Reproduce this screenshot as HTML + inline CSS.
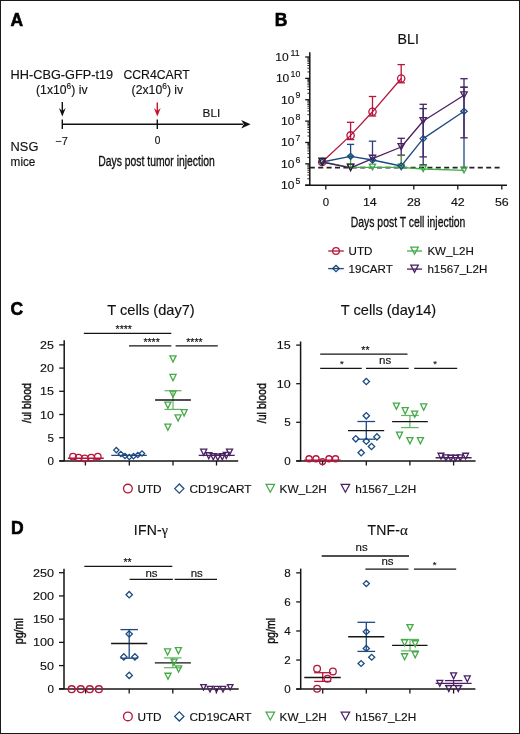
<!DOCTYPE html>
<html><head><meta charset="utf-8"><style>
html,body{margin:0;padding:0;background:#fff;width:520px;height:734px;overflow:hidden}
svg{display:block;will-change:transform}
text{font-family:"Liberation Sans",sans-serif}
</style></head><body>
<svg width="520" height="734" viewBox="0 0 520 734">
<rect x="0.5" y="0.5" width="519" height="733" fill="none" stroke="#1a1a1a" stroke-width="1"/>
<text x="10.60" y="26.00" font-size="17.5" text-anchor="start" font-weight="bold" fill="#000"  stroke="#000" stroke-width="0.6">A</text>
<text x="10.60" y="78.60" font-size="12.2" text-anchor="start" font-weight="normal" fill="#111" stroke="#111" stroke-width="0.15" textLength="102.5" lengthAdjust="spacingAndGlyphs">HH-CBG-GFP-t19</text>
<text x="36.00" y="93.80" font-size="12.2" text-anchor="start" font-weight="normal" fill="#111" stroke="#111" stroke-width="0.15" textLength="51.6" lengthAdjust="spacing">(1x10<tspan dy="-5" font-size="8.4">6</tspan><tspan dy="5">) iv</tspan></text>
<text x="123.40" y="78.90" font-size="12.2" text-anchor="start" font-weight="normal" fill="#111" stroke="#111" stroke-width="0.15" textLength="66.4" lengthAdjust="spacingAndGlyphs">CCR4CART</text>
<text x="131.60" y="94.00" font-size="12.2" text-anchor="start" font-weight="normal" fill="#111" stroke="#111" stroke-width="0.15" textLength="51.6" lengthAdjust="spacing">(2x10<tspan dy="-5" font-size="8.4">6</tspan><tspan dy="5">) iv</tspan></text>
<line x1="62.30" y1="101.90" x2="62.30" y2="112.60" stroke="#111" stroke-width="1.4" />
<path d="M58.90,108.00L62.30,116.60L65.70,108.00L62.30,111.00Z" fill="#111"/>
<line x1="157.30" y1="102.50" x2="157.30" y2="112.60" stroke="#c8102e" stroke-width="1.4" />
<path d="M153.90,108.00L157.30,116.60L160.70,108.00L157.30,111.00Z" fill="#c8102e"/>
<line x1="62.30" y1="124.20" x2="243.00" y2="124.20" stroke="#111" stroke-width="1.4" />
<path d="M250.6,124.3L241.2,119.9L243.8,124.3L241.2,128.6Z" fill="#111"/>
<line x1="62.30" y1="119.60" x2="62.30" y2="129.00" stroke="#111" stroke-width="1.4" />
<line x1="157.30" y1="119.60" x2="157.30" y2="129.00" stroke="#111" stroke-width="1.4" />
<text x="202.60" y="116.70" font-size="11.8" text-anchor="start" font-weight="normal" fill="#111" stroke="#111" stroke-width="0.15" >BLI</text>
<text x="55.40" y="144.60" font-size="11.6" text-anchor="start" font-weight="normal" fill="#111" stroke="#111" stroke-width="0.15" textLength="12.6" lengthAdjust="spacingAndGlyphs">−7</text>
<text x="157.50" y="144.30" font-size="11.4" text-anchor="middle" font-weight="normal" fill="#111"  textLength="5.6" lengthAdjust="spacingAndGlyphs" stroke="#111" stroke-width="0.2">0</text>
<text x="10.60" y="151.40" font-size="12.2" text-anchor="start" font-weight="normal" fill="#111" stroke="#111" stroke-width="0.15" textLength="27.8" lengthAdjust="spacingAndGlyphs">NSG</text>
<text x="10.60" y="166.20" font-size="12" text-anchor="start" font-weight="normal" fill="#111" stroke="#111" stroke-width="0.15" textLength="24.8" lengthAdjust="spacingAndGlyphs">mice</text>
<text x="98.20" y="165.60" font-size="15.2" text-anchor="start" font-weight="normal" fill="#111"  textLength="116.6" lengthAdjust="spacingAndGlyphs" stroke="#111" stroke-width="0.35">Days post tumor injection</text>
<text x="274.80" y="25.80" font-size="17.5" text-anchor="start" font-weight="bold" fill="#000"  stroke="#000" stroke-width="0.6">B</text>
<text x="408.20" y="43.80" font-size="14.2" text-anchor="middle" font-weight="normal" fill="#111" stroke="#111" stroke-width="0.15" >BLI</text>
<line x1="309.80" y1="52.30" x2="309.80" y2="185.20" stroke="#151515" stroke-width="1.5" />
<line x1="305.20" y1="185.20" x2="507.00" y2="185.20" stroke="#151515" stroke-width="1.5" />
<line x1="305.20" y1="185.20" x2="309.80" y2="185.20" stroke="#151515" stroke-width="1.3" />
<line x1="307.40" y1="178.77" x2="309.80" y2="178.77" stroke="#151515" stroke-width="0.9" />
<line x1="307.40" y1="175.01" x2="309.80" y2="175.01" stroke="#151515" stroke-width="0.9" />
<line x1="307.40" y1="172.34" x2="309.80" y2="172.34" stroke="#151515" stroke-width="0.9" />
<line x1="307.40" y1="170.27" x2="309.80" y2="170.27" stroke="#151515" stroke-width="0.9" />
<line x1="307.40" y1="168.57" x2="309.80" y2="168.57" stroke="#151515" stroke-width="0.9" />
<line x1="307.40" y1="167.14" x2="309.80" y2="167.14" stroke="#151515" stroke-width="0.9" />
<line x1="307.40" y1="165.90" x2="309.80" y2="165.90" stroke="#151515" stroke-width="0.9" />
<line x1="307.40" y1="164.81" x2="309.80" y2="164.81" stroke="#151515" stroke-width="0.9" />
<line x1="305.20" y1="163.83" x2="309.80" y2="163.83" stroke="#151515" stroke-width="1.3" />
<line x1="307.40" y1="157.40" x2="309.80" y2="157.40" stroke="#151515" stroke-width="0.9" />
<line x1="307.40" y1="153.64" x2="309.80" y2="153.64" stroke="#151515" stroke-width="0.9" />
<line x1="307.40" y1="150.97" x2="309.80" y2="150.97" stroke="#151515" stroke-width="0.9" />
<line x1="307.40" y1="148.90" x2="309.80" y2="148.90" stroke="#151515" stroke-width="0.9" />
<line x1="307.40" y1="147.21" x2="309.80" y2="147.21" stroke="#151515" stroke-width="0.9" />
<line x1="307.40" y1="145.78" x2="309.80" y2="145.78" stroke="#151515" stroke-width="0.9" />
<line x1="307.40" y1="144.54" x2="309.80" y2="144.54" stroke="#151515" stroke-width="0.9" />
<line x1="307.40" y1="143.44" x2="309.80" y2="143.44" stroke="#151515" stroke-width="0.9" />
<line x1="305.20" y1="142.47" x2="309.80" y2="142.47" stroke="#151515" stroke-width="1.3" />
<line x1="307.40" y1="136.03" x2="309.80" y2="136.03" stroke="#151515" stroke-width="0.9" />
<line x1="307.40" y1="132.27" x2="309.80" y2="132.27" stroke="#151515" stroke-width="0.9" />
<line x1="307.40" y1="129.60" x2="309.80" y2="129.60" stroke="#151515" stroke-width="0.9" />
<line x1="307.40" y1="127.53" x2="309.80" y2="127.53" stroke="#151515" stroke-width="0.9" />
<line x1="307.40" y1="125.84" x2="309.80" y2="125.84" stroke="#151515" stroke-width="0.9" />
<line x1="307.40" y1="124.41" x2="309.80" y2="124.41" stroke="#151515" stroke-width="0.9" />
<line x1="307.40" y1="123.17" x2="309.80" y2="123.17" stroke="#151515" stroke-width="0.9" />
<line x1="307.40" y1="122.08" x2="309.80" y2="122.08" stroke="#151515" stroke-width="0.9" />
<line x1="305.20" y1="121.10" x2="309.80" y2="121.10" stroke="#151515" stroke-width="1.3" />
<line x1="307.40" y1="114.67" x2="309.80" y2="114.67" stroke="#151515" stroke-width="0.9" />
<line x1="307.40" y1="110.91" x2="309.80" y2="110.91" stroke="#151515" stroke-width="0.9" />
<line x1="307.40" y1="108.24" x2="309.80" y2="108.24" stroke="#151515" stroke-width="0.9" />
<line x1="307.40" y1="106.17" x2="309.80" y2="106.17" stroke="#151515" stroke-width="0.9" />
<line x1="307.40" y1="104.47" x2="309.80" y2="104.47" stroke="#151515" stroke-width="0.9" />
<line x1="307.40" y1="103.04" x2="309.80" y2="103.04" stroke="#151515" stroke-width="0.9" />
<line x1="307.40" y1="101.80" x2="309.80" y2="101.80" stroke="#151515" stroke-width="0.9" />
<line x1="307.40" y1="100.71" x2="309.80" y2="100.71" stroke="#151515" stroke-width="0.9" />
<line x1="305.20" y1="99.73" x2="309.80" y2="99.73" stroke="#151515" stroke-width="1.3" />
<line x1="307.40" y1="93.30" x2="309.80" y2="93.30" stroke="#151515" stroke-width="0.9" />
<line x1="307.40" y1="89.54" x2="309.80" y2="89.54" stroke="#151515" stroke-width="0.9" />
<line x1="307.40" y1="86.87" x2="309.80" y2="86.87" stroke="#151515" stroke-width="0.9" />
<line x1="307.40" y1="84.80" x2="309.80" y2="84.80" stroke="#151515" stroke-width="0.9" />
<line x1="307.40" y1="83.11" x2="309.80" y2="83.11" stroke="#151515" stroke-width="0.9" />
<line x1="307.40" y1="81.68" x2="309.80" y2="81.68" stroke="#151515" stroke-width="0.9" />
<line x1="307.40" y1="80.44" x2="309.80" y2="80.44" stroke="#151515" stroke-width="0.9" />
<line x1="307.40" y1="79.34" x2="309.80" y2="79.34" stroke="#151515" stroke-width="0.9" />
<line x1="305.20" y1="78.37" x2="309.80" y2="78.37" stroke="#151515" stroke-width="1.3" />
<line x1="307.40" y1="71.93" x2="309.80" y2="71.93" stroke="#151515" stroke-width="0.9" />
<line x1="307.40" y1="68.17" x2="309.80" y2="68.17" stroke="#151515" stroke-width="0.9" />
<line x1="307.40" y1="65.50" x2="309.80" y2="65.50" stroke="#151515" stroke-width="0.9" />
<line x1="307.40" y1="63.43" x2="309.80" y2="63.43" stroke="#151515" stroke-width="0.9" />
<line x1="307.40" y1="61.74" x2="309.80" y2="61.74" stroke="#151515" stroke-width="0.9" />
<line x1="307.40" y1="60.31" x2="309.80" y2="60.31" stroke="#151515" stroke-width="0.9" />
<line x1="307.40" y1="59.07" x2="309.80" y2="59.07" stroke="#151515" stroke-width="0.9" />
<line x1="307.40" y1="57.98" x2="309.80" y2="57.98" stroke="#151515" stroke-width="0.9" />
<line x1="305.20" y1="57.00" x2="309.80" y2="57.00" stroke="#151515" stroke-width="1.3" />
<text x="300.30" y="183.90" font-size="8.8" text-anchor="end" font-weight="normal" fill="#111" stroke="#111" stroke-width="0.15" >5</text>
<text x="294.50" y="189.20" font-size="11.2" text-anchor="end" font-weight="normal" fill="#111" stroke="#111" stroke-width="0.15" textLength="13.4" lengthAdjust="spacingAndGlyphs">10</text>
<text x="300.30" y="162.53" font-size="8.8" text-anchor="end" font-weight="normal" fill="#111" stroke="#111" stroke-width="0.15" >6</text>
<text x="294.50" y="167.83" font-size="11.2" text-anchor="end" font-weight="normal" fill="#111" stroke="#111" stroke-width="0.15" textLength="13.4" lengthAdjust="spacingAndGlyphs">10</text>
<text x="300.30" y="141.17" font-size="8.8" text-anchor="end" font-weight="normal" fill="#111" stroke="#111" stroke-width="0.15" >7</text>
<text x="294.50" y="146.47" font-size="11.2" text-anchor="end" font-weight="normal" fill="#111" stroke="#111" stroke-width="0.15" textLength="13.4" lengthAdjust="spacingAndGlyphs">10</text>
<text x="300.30" y="119.80" font-size="8.8" text-anchor="end" font-weight="normal" fill="#111" stroke="#111" stroke-width="0.15" >8</text>
<text x="294.50" y="125.10" font-size="11.2" text-anchor="end" font-weight="normal" fill="#111" stroke="#111" stroke-width="0.15" textLength="13.4" lengthAdjust="spacingAndGlyphs">10</text>
<text x="300.30" y="98.43" font-size="8.8" text-anchor="end" font-weight="normal" fill="#111" stroke="#111" stroke-width="0.15" >9</text>
<text x="294.50" y="103.73" font-size="11.2" text-anchor="end" font-weight="normal" fill="#111" stroke="#111" stroke-width="0.15" textLength="13.4" lengthAdjust="spacingAndGlyphs">10</text>
<text x="300.30" y="77.07" font-size="8.8" text-anchor="end" font-weight="normal" fill="#111" stroke="#111" stroke-width="0.15" >10</text>
<text x="289.30" y="82.37" font-size="11.2" text-anchor="end" font-weight="normal" fill="#111" stroke="#111" stroke-width="0.15" textLength="13.4" lengthAdjust="spacingAndGlyphs">10</text>
<text x="299.60" y="55.70" font-size="8.8" text-anchor="end" font-weight="normal" fill="#111" stroke="#111" stroke-width="0.15" >11</text>
<text x="288.60" y="61.00" font-size="11.2" text-anchor="end" font-weight="normal" fill="#111" stroke="#111" stroke-width="0.15" textLength="13.4" lengthAdjust="spacingAndGlyphs">10</text>
<line x1="325.80" y1="185.00" x2="325.80" y2="189.60" stroke="#151515" stroke-width="1.3" />
<text x="325.80" y="205.70" font-size="11.4" text-anchor="middle" font-weight="normal" fill="#111" stroke="#111" stroke-width="0.15" >0</text>
<line x1="369.80" y1="185.00" x2="369.80" y2="189.60" stroke="#151515" stroke-width="1.3" />
<text x="369.80" y="205.70" font-size="11.4" text-anchor="middle" font-weight="normal" fill="#111" stroke="#111" stroke-width="0.15" textLength="13.8" lengthAdjust="spacingAndGlyphs">14</text>
<line x1="413.80" y1="185.00" x2="413.80" y2="189.60" stroke="#151515" stroke-width="1.3" />
<text x="413.80" y="205.70" font-size="11.4" text-anchor="middle" font-weight="normal" fill="#111" stroke="#111" stroke-width="0.15" textLength="13.8" lengthAdjust="spacingAndGlyphs">28</text>
<line x1="457.81" y1="185.00" x2="457.81" y2="189.60" stroke="#151515" stroke-width="1.3" />
<text x="457.81" y="205.70" font-size="11.4" text-anchor="middle" font-weight="normal" fill="#111" stroke="#111" stroke-width="0.15" textLength="13.8" lengthAdjust="spacingAndGlyphs">42</text>
<line x1="501.81" y1="185.00" x2="501.81" y2="189.60" stroke="#151515" stroke-width="1.3" />
<text x="501.81" y="205.70" font-size="11.4" text-anchor="middle" font-weight="normal" fill="#111" stroke="#111" stroke-width="0.15" textLength="13.8" lengthAdjust="spacingAndGlyphs">56</text>
<text x="350.80" y="226.50" font-size="15.2" text-anchor="start" font-weight="normal" fill="#111"  textLength="114.6" lengthAdjust="spacingAndGlyphs" stroke="#111" stroke-width="0.35">Days post T cell injection</text>
<line x1="309.80" y1="167.70" x2="500.60" y2="167.70" stroke="#222" stroke-width="1.8" stroke-dasharray="5 3.4"/>
<line x1="423.20" y1="104.30" x2="423.20" y2="156.90" stroke="#4a2062" stroke-width="1.3" />
<line x1="419.50" y1="104.30" x2="426.90" y2="104.30" stroke="#4a2062" stroke-width="1.3" />
<line x1="419.50" y1="156.90" x2="426.90" y2="156.90" stroke="#4a2062" stroke-width="1.3" />
<line x1="423.20" y1="108.60" x2="423.20" y2="164.80" stroke="#3a2d6a" stroke-width="1.3" />
<line x1="419.50" y1="108.60" x2="426.90" y2="108.60" stroke="#3a2d6a" stroke-width="1.3" />
<line x1="419.50" y1="164.80" x2="426.90" y2="164.80" stroke="#3a2d6a" stroke-width="1.3" />
<line x1="464.00" y1="87.20" x2="464.00" y2="167.00" stroke="#1d4a80" stroke-width="1.3" />
<line x1="460.30" y1="87.20" x2="467.70" y2="87.20" stroke="#1d4a80" stroke-width="1.3" />
<line x1="460.30" y1="87.20" x2="467.70" y2="87.20" stroke="#3a2d6a" stroke-width="1.3" />
<line x1="464.00" y1="78.70" x2="464.00" y2="137.80" stroke="#4a2062" stroke-width="1.3" />
<line x1="460.30" y1="78.70" x2="467.70" y2="78.70" stroke="#4a2062" stroke-width="1.3" />
<line x1="460.30" y1="137.80" x2="467.70" y2="137.80" stroke="#4a2062" stroke-width="1.3" />
<line x1="401.20" y1="138.30" x2="401.20" y2="155.20" stroke="#4a2062" stroke-width="1.3" />
<line x1="397.50" y1="138.30" x2="404.90" y2="138.30" stroke="#4a2062" stroke-width="1.3" />
<line x1="397.50" y1="155.20" x2="404.90" y2="155.20" stroke="#4a2062" stroke-width="1.3" />
<line x1="401.20" y1="155.40" x2="401.20" y2="167.00" stroke="#4f7a3a" stroke-width="1.3" />
<line x1="397.50" y1="155.40" x2="404.90" y2="155.40" stroke="#4f7a3a" stroke-width="1.3" />
<line x1="372.50" y1="141.20" x2="372.50" y2="158.00" stroke="#2d3f78" stroke-width="1.3" />
<line x1="368.80" y1="141.20" x2="376.20" y2="141.20" stroke="#2d3f78" stroke-width="1.3" />
<line x1="350.60" y1="144.40" x2="350.60" y2="156.00" stroke="#1d4a80" stroke-width="1.3" />
<line x1="347.00" y1="144.40" x2="354.20" y2="144.40" stroke="#1d4a80" stroke-width="1.3" />
<line x1="350.60" y1="157.50" x2="350.60" y2="167.00" stroke="#45aa48" stroke-width="1.3" />
<path d="M348.00,156.3L350.60,153.8L353.20,156.3L350.60,158.8Z" fill="#2e8a5a"/>
<line x1="350.60" y1="122.30" x2="350.60" y2="139.60" stroke="#b5163c" stroke-width="1.3" />
<line x1="346.90" y1="122.30" x2="354.30" y2="122.30" stroke="#b5163c" stroke-width="1.3" />
<line x1="346.90" y1="139.60" x2="354.30" y2="139.60" stroke="#b5163c" stroke-width="1.3" />
<line x1="372.50" y1="96.50" x2="372.50" y2="116.00" stroke="#b5163c" stroke-width="1.3" />
<line x1="368.80" y1="96.50" x2="376.20" y2="96.50" stroke="#b5163c" stroke-width="1.3" />
<line x1="368.80" y1="116.00" x2="376.20" y2="116.00" stroke="#b5163c" stroke-width="1.3" />
<line x1="401.20" y1="64.60" x2="401.20" y2="82.80" stroke="#b5163c" stroke-width="1.3" />
<line x1="397.50" y1="64.60" x2="404.90" y2="64.60" stroke="#b5163c" stroke-width="1.3" />
<line x1="397.50" y1="82.80" x2="404.90" y2="82.80" stroke="#b5163c" stroke-width="1.3" />
<polyline points="322.20,162.00 350.60,167.30 372.50,167.30 401.20,167.30 423.20,169.00 464.00,170.30" fill="none" stroke="#45aa48" stroke-width="1.3" stroke-linejoin="round"/>
<polyline points="322.20,162.00 350.60,156.30 372.50,160.00 401.20,166.00 423.20,138.60 464.00,111.30" fill="none" stroke="#1d4a80" stroke-width="1.3" stroke-linejoin="round"/>
<polyline points="322.20,162.00 350.60,167.80 372.50,158.60 401.20,147.00 423.20,121.00 464.00,95.20" fill="none" stroke="#4a2062" stroke-width="1.3" stroke-linejoin="round"/>
<polyline points="322.20,162.00 350.60,135.40 372.50,111.80 401.20,78.50" fill="none" stroke="#b5163c" stroke-width="1.3" stroke-linejoin="round"/>
<circle cx="322.20" cy="162.00" r="3.65" fill="none" stroke="#b5163c" stroke-width="1.3"/>
<circle cx="350.60" cy="135.40" r="3.65" fill="none" stroke="#b5163c" stroke-width="1.3"/>
<circle cx="372.50" cy="111.80" r="3.65" fill="none" stroke="#b5163c" stroke-width="1.3"/>
<circle cx="401.20" cy="78.50" r="3.65" fill="none" stroke="#b5163c" stroke-width="1.3"/>
<path d="M319.09,158.75L325.31,158.75L322.20,164.53Z" fill="none" stroke="#45aa48" stroke-width="1.3" stroke-linejoin="miter"/>
<path d="M347.49,164.05L353.71,164.05L350.60,169.83Z" fill="none" stroke="#45aa48" stroke-width="1.3" stroke-linejoin="miter"/>
<path d="M369.39,164.05L375.61,164.05L372.50,169.83Z" fill="none" stroke="#45aa48" stroke-width="1.3" stroke-linejoin="miter"/>
<path d="M398.09,164.05L404.31,164.05L401.20,169.83Z" fill="none" stroke="#45aa48" stroke-width="1.3" stroke-linejoin="miter"/>
<path d="M420.09,165.75L426.31,165.75L423.20,171.53Z" fill="none" stroke="#45aa48" stroke-width="1.3" stroke-linejoin="miter"/>
<path d="M460.89,167.05L467.11,167.05L464.00,172.83Z" fill="none" stroke="#45aa48" stroke-width="1.3" stroke-linejoin="miter"/>
<path d="M319.04,162.00L322.20,159.00L325.36,162.00L322.20,165.00Z" fill="none" stroke="#1d4a80" stroke-width="1.3" stroke-linejoin="miter"/>
<path d="M347.44,156.30L350.60,153.30L353.76,156.30L350.60,159.30Z" fill="none" stroke="#1d4a80" stroke-width="1.3" stroke-linejoin="miter"/>
<path d="M369.34,160.00L372.50,157.00L375.66,160.00L372.50,163.00Z" fill="none" stroke="#1d4a80" stroke-width="1.3" stroke-linejoin="miter"/>
<path d="M398.04,166.00L401.20,163.00L404.36,166.00L401.20,169.00Z" fill="none" stroke="#1d4a80" stroke-width="1.3" stroke-linejoin="miter"/>
<path d="M420.04,138.60L423.20,135.60L426.36,138.60L423.20,141.60Z" fill="none" stroke="#1d4a80" stroke-width="1.3" stroke-linejoin="miter"/>
<path d="M460.84,111.30L464.00,108.30L467.16,111.30L464.00,114.30Z" fill="none" stroke="#1d4a80" stroke-width="1.3" stroke-linejoin="miter"/>
<path d="M318.94,158.25L325.46,158.25L322.20,164.92Z" fill="none" stroke="#2e1838" stroke-width="1.3" stroke-linejoin="miter"/>
<path d="M347.34,164.05L353.86,164.05L350.60,170.72Z" fill="none" stroke="#2e1838" stroke-width="1.3" stroke-linejoin="miter"/>
<path d="M369.29,155.25L375.71,155.25L372.50,161.23Z" fill="none" stroke="#4a2062" stroke-width="1.3" stroke-linejoin="miter"/>
<path d="M397.99,143.65L404.41,143.65L401.20,149.63Z" fill="none" stroke="#4a2062" stroke-width="1.3" stroke-linejoin="miter"/>
<path d="M419.99,117.65L426.41,117.65L423.20,123.63Z" fill="none" stroke="#4a2062" stroke-width="1.3" stroke-linejoin="miter"/>
<path d="M460.79,91.85L467.21,91.85L464.00,97.83Z" fill="none" stroke="#4a2062" stroke-width="1.3" stroke-linejoin="miter"/>
<line x1="328.20" y1="251.00" x2="343.80" y2="251.00" stroke="#b5163c" stroke-width="1.3" />
<circle cx="336.00" cy="251.00" r="3.35" fill="none" stroke="#b5163c" stroke-width="1.3"/>
<text x="348.60" y="254.80" font-size="11.6" text-anchor="start" font-weight="normal" fill="#111" stroke="#111" stroke-width="0.15" >UTD</text>
<line x1="328.20" y1="268.60" x2="343.80" y2="268.60" stroke="#1d4a80" stroke-width="1.3" />
<path d="M332.65,268.60L336.00,265.49L339.35,268.60L336.00,271.71Z" fill="none" stroke="#1d4a80" stroke-width="1.3" stroke-linejoin="miter"/>
<text x="348.60" y="272.80" font-size="11.6" text-anchor="start" font-weight="normal" fill="#111" stroke="#111" stroke-width="0.15" >19CART</text>
<line x1="407.00" y1="251.00" x2="422.10" y2="251.00" stroke="#45aa48" stroke-width="1.3" />
<path d="M410.82,247.05L418.28,247.05L414.55,254.19Z" fill="none" stroke="#45aa48" stroke-width="1.3" stroke-linejoin="miter"/>
<text x="427.40" y="255.00" font-size="11.6" text-anchor="start" font-weight="normal" fill="#111" stroke="#111" stroke-width="0.15" >KW_L2H</text>
<line x1="407.00" y1="269.10" x2="422.10" y2="269.10" stroke="#4a2062" stroke-width="1.3" />
<path d="M410.82,265.15L418.28,265.15L414.55,272.29Z" fill="none" stroke="#4a2062" stroke-width="1.3" stroke-linejoin="miter"/>
<text x="427.40" y="273.00" font-size="11.6" text-anchor="start" font-weight="normal" fill="#111" stroke="#111" stroke-width="0.15" >h1567_L2H</text>
<text x="10.60" y="315.20" font-size="17.5" text-anchor="start" font-weight="bold" fill="#000"  stroke="#000" stroke-width="0.6">C</text>
<text x="151.00" y="315.00" font-size="14.6" text-anchor="middle" font-weight="normal" fill="#111" stroke="#111" stroke-width="0.15" >T cells (day7)</text>
<line x1="64.20" y1="340.20" x2="64.20" y2="461.00" stroke="#151515" stroke-width="1.5" />
<line x1="59.20" y1="461.00" x2="238.20" y2="461.00" stroke="#151515" stroke-width="1.5" />
<line x1="59.20" y1="460.90" x2="64.20" y2="460.90" stroke="#151515" stroke-width="1.3" />
<text x="54.00" y="465.00" font-size="11.6" text-anchor="end" font-weight="normal" fill="#111" stroke="#111" stroke-width="0.15" >0</text>
<line x1="59.20" y1="437.70" x2="64.20" y2="437.70" stroke="#151515" stroke-width="1.3" />
<text x="54.00" y="441.80" font-size="11.6" text-anchor="end" font-weight="normal" fill="#111" stroke="#111" stroke-width="0.15" >5</text>
<line x1="59.20" y1="414.50" x2="64.20" y2="414.50" stroke="#151515" stroke-width="1.3" />
<text x="54.00" y="418.60" font-size="11.6" text-anchor="end" font-weight="normal" fill="#111" stroke="#111" stroke-width="0.15" textLength="13.9" lengthAdjust="spacingAndGlyphs">10</text>
<line x1="59.20" y1="391.30" x2="64.20" y2="391.30" stroke="#151515" stroke-width="1.3" />
<text x="54.00" y="395.40" font-size="11.6" text-anchor="end" font-weight="normal" fill="#111" stroke="#111" stroke-width="0.15" textLength="13.9" lengthAdjust="spacingAndGlyphs">15</text>
<line x1="59.20" y1="368.10" x2="64.20" y2="368.10" stroke="#151515" stroke-width="1.3" />
<text x="54.00" y="372.20" font-size="11.6" text-anchor="end" font-weight="normal" fill="#111" stroke="#111" stroke-width="0.15" textLength="13.9" lengthAdjust="spacingAndGlyphs">20</text>
<line x1="59.20" y1="344.90" x2="64.20" y2="344.90" stroke="#151515" stroke-width="1.3" />
<text x="54.00" y="349.00" font-size="11.6" text-anchor="end" font-weight="normal" fill="#111" stroke="#111" stroke-width="0.15" textLength="13.9" lengthAdjust="spacingAndGlyphs">25</text>
<line x1="85.40" y1="461.00" x2="85.40" y2="465.50" stroke="#151515" stroke-width="1.3" />
<line x1="129.30" y1="461.00" x2="129.30" y2="465.50" stroke="#151515" stroke-width="1.3" />
<line x1="173.00" y1="461.00" x2="173.00" y2="465.50" stroke="#151515" stroke-width="1.3" />
<line x1="216.50" y1="461.00" x2="216.50" y2="465.50" stroke="#151515" stroke-width="1.3" />
<text x="31.00" y="403.00" font-size="13.2" text-anchor="middle" font-weight="normal" fill="#111"  transform="rotate(-90 31.0 403.0)" textLength="40.0" lengthAdjust="spacingAndGlyphs" stroke="#111" stroke-width="0.45">/ul blood</text>
<line x1="83.80" y1="333.40" x2="171.30" y2="333.40" stroke="#151515" stroke-width="1.3" />
<text x="123.80" y="333.10" font-size="10.5" text-anchor="middle" font-weight="normal" fill="#111" stroke="#111" stroke-width="0.15" >****</text>
<line x1="129.00" y1="345.80" x2="171.30" y2="345.80" stroke="#151515" stroke-width="1.3" />
<text x="151.60" y="345.70" font-size="10.5" text-anchor="middle" font-weight="normal" fill="#111" stroke="#111" stroke-width="0.15" >****</text>
<line x1="175.60" y1="345.80" x2="217.80" y2="345.80" stroke="#151515" stroke-width="1.3" />
<text x="194.40" y="345.70" font-size="10.5" text-anchor="middle" font-weight="normal" fill="#111" stroke="#111" stroke-width="0.15" >****</text>
<line x1="67.80" y1="458.20" x2="103.80" y2="458.20" stroke="#b5163c" stroke-width="1.4" />
<circle cx="73.00" cy="456.60" r="3.25" fill="none" stroke="#b5163c" stroke-width="1.3"/>
<circle cx="78.60" cy="457.60" r="3.25" fill="none" stroke="#b5163c" stroke-width="1.3"/>
<circle cx="84.80" cy="458.40" r="3.25" fill="none" stroke="#b5163c" stroke-width="1.3"/>
<circle cx="91.20" cy="457.60" r="3.25" fill="none" stroke="#b5163c" stroke-width="1.3"/>
<circle cx="97.80" cy="456.60" r="3.25" fill="none" stroke="#b5163c" stroke-width="1.3"/>
<line x1="111.30" y1="455.40" x2="146.80" y2="455.40" stroke="#1d4a80" stroke-width="1.4" />
<path d="M113.62,450.10L116.30,447.42L118.98,450.10L116.30,452.78Z" fill="none" stroke="#1d4a80" stroke-width="1.3" stroke-linejoin="miter"/>
<path d="M118.12,454.00L120.80,451.32L123.48,454.00L120.80,456.68Z" fill="none" stroke="#1d4a80" stroke-width="1.3" stroke-linejoin="miter"/>
<path d="M122.32,456.00L125.00,453.32L127.68,456.00L125.00,458.68Z" fill="none" stroke="#1d4a80" stroke-width="1.3" stroke-linejoin="miter"/>
<path d="M126.62,457.00L129.30,454.32L131.98,457.00L129.30,459.68Z" fill="none" stroke="#1d4a80" stroke-width="1.3" stroke-linejoin="miter"/>
<path d="M130.82,456.20L133.50,453.52L136.18,456.20L133.50,458.88Z" fill="none" stroke="#1d4a80" stroke-width="1.3" stroke-linejoin="miter"/>
<path d="M135.12,455.00L137.80,452.32L140.48,455.00L137.80,457.68Z" fill="none" stroke="#1d4a80" stroke-width="1.3" stroke-linejoin="miter"/>
<path d="M139.32,453.50L142.00,450.82L144.68,453.50L142.00,456.18Z" fill="none" stroke="#1d4a80" stroke-width="1.3" stroke-linejoin="miter"/>
<line x1="173.00" y1="390.70" x2="173.00" y2="409.40" stroke="#5fb65f" stroke-width="1.2" />
<line x1="164.50" y1="390.70" x2="181.50" y2="390.70" stroke="#5fb65f" stroke-width="1.2" />
<line x1="164.50" y1="409.40" x2="181.50" y2="409.40" stroke="#5fb65f" stroke-width="1.2" />
<line x1="155.10" y1="400.00" x2="190.90" y2="400.00" stroke="#151515" stroke-width="1.4" />
<path d="M169.94,355.85L176.06,355.85L173.00,362.12Z" fill="none" stroke="#45aa48" stroke-width="1.3" stroke-linejoin="miter"/>
<path d="M169.94,374.45L176.06,374.45L173.00,380.72Z" fill="none" stroke="#45aa48" stroke-width="1.3" stroke-linejoin="miter"/>
<path d="M169.94,391.05L176.06,391.05L173.00,397.32Z" fill="none" stroke="#45aa48" stroke-width="1.3" stroke-linejoin="miter"/>
<path d="M164.84,402.05L170.96,402.05L167.90,408.32Z" fill="none" stroke="#45aa48" stroke-width="1.3" stroke-linejoin="miter"/>
<path d="M181.04,409.65L187.16,409.65L184.10,415.92Z" fill="none" stroke="#45aa48" stroke-width="1.3" stroke-linejoin="miter"/>
<path d="M175.04,414.85L181.16,414.85L178.10,421.12Z" fill="none" stroke="#45aa48" stroke-width="1.3" stroke-linejoin="miter"/>
<path d="M164.84,424.05L170.96,424.05L167.90,430.32Z" fill="none" stroke="#45aa48" stroke-width="1.3" stroke-linejoin="miter"/>
<line x1="198.70" y1="455.40" x2="234.70" y2="455.40" stroke="#4a2062" stroke-width="1.4" />
<path d="M200.65,449.15L206.75,449.15L203.70,455.25Z" fill="none" stroke="#4a2062" stroke-width="1.3" stroke-linejoin="miter"/>
<path d="M205.75,452.75L211.85,452.75L208.80,458.85Z" fill="none" stroke="#4a2062" stroke-width="1.3" stroke-linejoin="miter"/>
<path d="M210.25,453.75L216.35,453.75L213.30,459.85Z" fill="none" stroke="#4a2062" stroke-width="1.3" stroke-linejoin="miter"/>
<path d="M214.75,454.15L220.85,454.15L217.80,460.25Z" fill="none" stroke="#4a2062" stroke-width="1.3" stroke-linejoin="miter"/>
<path d="M219.25,453.75L225.35,453.75L222.30,459.85Z" fill="none" stroke="#4a2062" stroke-width="1.3" stroke-linejoin="miter"/>
<path d="M223.25,452.35L229.35,452.35L226.30,458.45Z" fill="none" stroke="#4a2062" stroke-width="1.3" stroke-linejoin="miter"/>
<path d="M226.45,449.15L232.55,449.15L229.50,455.25Z" fill="none" stroke="#4a2062" stroke-width="1.3" stroke-linejoin="miter"/>
<text x="388.50" y="315.00" font-size="14.6" text-anchor="middle" font-weight="normal" fill="#111" stroke="#111" stroke-width="0.15" >T cells (day14)</text>
<line x1="300.60" y1="341.50" x2="300.60" y2="461.00" stroke="#151515" stroke-width="1.5" />
<line x1="296.20" y1="461.00" x2="475.60" y2="461.00" stroke="#151515" stroke-width="1.5" />
<line x1="296.20" y1="460.90" x2="300.60" y2="460.90" stroke="#151515" stroke-width="1.3" />
<text x="290.60" y="465.00" font-size="11.6" text-anchor="end" font-weight="normal" fill="#111" stroke="#111" stroke-width="0.15" >0</text>
<line x1="296.20" y1="422.30" x2="300.60" y2="422.30" stroke="#151515" stroke-width="1.3" />
<text x="290.60" y="426.40" font-size="11.6" text-anchor="end" font-weight="normal" fill="#111" stroke="#111" stroke-width="0.15" >5</text>
<line x1="296.20" y1="383.70" x2="300.60" y2="383.70" stroke="#151515" stroke-width="1.3" />
<text x="290.60" y="387.80" font-size="11.6" text-anchor="end" font-weight="normal" fill="#111" stroke="#111" stroke-width="0.15" textLength="13.9" lengthAdjust="spacingAndGlyphs">10</text>
<line x1="296.20" y1="345.10" x2="300.60" y2="345.10" stroke="#151515" stroke-width="1.3" />
<text x="290.60" y="349.20" font-size="11.6" text-anchor="end" font-weight="normal" fill="#111" stroke="#111" stroke-width="0.15" textLength="13.9" lengthAdjust="spacingAndGlyphs">15</text>
<line x1="322.60" y1="461.00" x2="322.60" y2="465.50" stroke="#151515" stroke-width="1.3" />
<line x1="366.30" y1="461.00" x2="366.30" y2="465.50" stroke="#151515" stroke-width="1.3" />
<line x1="409.90" y1="461.00" x2="409.90" y2="465.50" stroke="#151515" stroke-width="1.3" />
<line x1="453.60" y1="461.00" x2="453.60" y2="465.50" stroke="#151515" stroke-width="1.3" />
<text x="266.40" y="403.20" font-size="13.2" text-anchor="middle" font-weight="normal" fill="#111"  transform="rotate(-90 266.4 403.2)" textLength="40.0" lengthAdjust="spacingAndGlyphs" stroke="#111" stroke-width="0.45">/ul blood</text>
<line x1="320.20" y1="354.10" x2="407.50" y2="354.10" stroke="#151515" stroke-width="1.3" />
<text x="365.40" y="353.80" font-size="10.5" text-anchor="middle" font-weight="normal" fill="#111" stroke="#111" stroke-width="0.15" >**</text>
<line x1="320.20" y1="368.30" x2="361.70" y2="368.30" stroke="#151515" stroke-width="1.3" />
<text x="341.80" y="367.20" font-size="9.5" text-anchor="middle" font-weight="normal" fill="#111" stroke="#111" stroke-width="0.15" >*</text>
<line x1="366.00" y1="368.30" x2="408.70" y2="368.30" stroke="#151515" stroke-width="1.3" />
<text x="385.20" y="364.40" font-size="11.5" text-anchor="middle" font-weight="normal" fill="#111" stroke="#111" stroke-width="0.15" >ns</text>
<line x1="414.20" y1="368.30" x2="457.20" y2="368.30" stroke="#151515" stroke-width="1.3" />
<text x="435.00" y="367.20" font-size="9.5" text-anchor="middle" font-weight="normal" fill="#111" stroke="#111" stroke-width="0.15" >*</text>
<line x1="303.90" y1="460.10" x2="340.70" y2="460.10" stroke="#b5163c" stroke-width="1.4" />
<circle cx="309.10" cy="458.80" r="3.05" fill="none" stroke="#b5163c" stroke-width="1.3"/>
<circle cx="316.00" cy="458.80" r="3.05" fill="none" stroke="#b5163c" stroke-width="1.3"/>
<circle cx="322.50" cy="461.60" r="3.05" fill="none" stroke="#b5163c" stroke-width="1.3"/>
<circle cx="329.00" cy="458.80" r="3.05" fill="none" stroke="#b5163c" stroke-width="1.3"/>
<circle cx="335.50" cy="458.80" r="3.05" fill="none" stroke="#b5163c" stroke-width="1.3"/>
<line x1="366.30" y1="421.50" x2="366.30" y2="439.20" stroke="#1d4a80" stroke-width="1.3" />
<line x1="357.45" y1="421.50" x2="375.15" y2="421.50" stroke="#1d4a80" stroke-width="1.3" />
<line x1="357.45" y1="439.20" x2="375.15" y2="439.20" stroke="#1d4a80" stroke-width="1.3" />
<line x1="348.00" y1="430.60" x2="384.20" y2="430.60" stroke="#151515" stroke-width="1.4" />
<path d="M363.12,381.50L366.30,378.32L369.48,381.50L366.30,384.68Z" fill="none" stroke="#1d4a80" stroke-width="1.3" stroke-linejoin="miter"/>
<path d="M363.12,415.80L366.30,412.62L369.48,415.80L366.30,418.98Z" fill="none" stroke="#1d4a80" stroke-width="1.3" stroke-linejoin="miter"/>
<path d="M352.62,438.80L355.80,435.62L358.98,438.80L355.80,441.98Z" fill="none" stroke="#1d4a80" stroke-width="1.3" stroke-linejoin="miter"/>
<path d="M363.12,441.20L366.30,438.02L369.48,441.20L366.30,444.38Z" fill="none" stroke="#1d4a80" stroke-width="1.3" stroke-linejoin="miter"/>
<path d="M373.72,436.90L376.90,433.72L380.08,436.90L376.90,440.08Z" fill="none" stroke="#1d4a80" stroke-width="1.3" stroke-linejoin="miter"/>
<path d="M368.32,446.50L371.50,443.32L374.68,446.50L371.50,449.68Z" fill="none" stroke="#1d4a80" stroke-width="1.3" stroke-linejoin="miter"/>
<path d="M358.02,452.70L361.20,449.52L364.38,452.70L361.20,455.88Z" fill="none" stroke="#1d4a80" stroke-width="1.3" stroke-linejoin="miter"/>
<line x1="409.90" y1="415.50" x2="409.90" y2="427.60" stroke="#5fb65f" stroke-width="1.2" />
<line x1="401.05" y1="415.50" x2="418.75" y2="415.50" stroke="#5fb65f" stroke-width="1.2" />
<line x1="401.05" y1="427.60" x2="418.75" y2="427.60" stroke="#5fb65f" stroke-width="1.2" />
<line x1="392.10" y1="421.60" x2="427.80" y2="421.60" stroke="#151515" stroke-width="1.4" />
<path d="M393.34,403.05L399.46,403.05L396.40,409.32Z" fill="none" stroke="#45aa48" stroke-width="1.3" stroke-linejoin="miter"/>
<path d="M402.14,407.65L408.26,407.65L405.20,413.92Z" fill="none" stroke="#45aa48" stroke-width="1.3" stroke-linejoin="miter"/>
<path d="M411.64,411.05L417.76,411.05L414.70,417.32Z" fill="none" stroke="#45aa48" stroke-width="1.3" stroke-linejoin="miter"/>
<path d="M420.64,403.95L426.76,403.95L423.70,410.22Z" fill="none" stroke="#45aa48" stroke-width="1.3" stroke-linejoin="miter"/>
<path d="M396.44,432.15L402.56,432.15L399.50,438.42Z" fill="none" stroke="#45aa48" stroke-width="1.3" stroke-linejoin="miter"/>
<path d="M406.84,437.55L412.96,437.55L409.90,443.82Z" fill="none" stroke="#45aa48" stroke-width="1.3" stroke-linejoin="miter"/>
<path d="M417.34,437.55L423.46,437.55L420.40,443.82Z" fill="none" stroke="#45aa48" stroke-width="1.3" stroke-linejoin="miter"/>
<line x1="435.60" y1="457.80" x2="471.60" y2="457.80" stroke="#4a2062" stroke-width="1.4" />
<path d="M438.05,453.25L443.95,453.25L441.00,459.15Z" fill="none" stroke="#4a2062" stroke-width="1.3" stroke-linejoin="miter"/>
<path d="M443.05,454.85L448.95,454.85L446.00,460.75Z" fill="none" stroke="#4a2062" stroke-width="1.3" stroke-linejoin="miter"/>
<path d="M447.85,455.25L453.75,455.25L450.80,461.15Z" fill="none" stroke="#4a2062" stroke-width="1.3" stroke-linejoin="miter"/>
<path d="M452.55,455.25L458.45,455.25L455.50,461.15Z" fill="none" stroke="#4a2062" stroke-width="1.3" stroke-linejoin="miter"/>
<path d="M457.25,454.85L463.15,454.85L460.20,460.75Z" fill="none" stroke="#4a2062" stroke-width="1.3" stroke-linejoin="miter"/>
<path d="M462.65,453.25L468.55,453.25L465.60,459.15Z" fill="none" stroke="#4a2062" stroke-width="1.3" stroke-linejoin="miter"/>
<circle cx="127.90" cy="488.60" r="4.35" fill="none" stroke="#b5163c" stroke-width="1.3"/>
<text x="137.40" y="492.90" font-size="11.8" text-anchor="start" font-weight="normal" fill="#111" stroke="#111" stroke-width="0.15" >UTD</text>
<path d="M174.72,488.60L179.30,484.02L183.88,488.60L179.30,493.18Z" fill="none" stroke="#1d4a80" stroke-width="1.3" stroke-linejoin="miter"/>
<text x="189.40" y="492.90" font-size="11.8" text-anchor="start" font-weight="normal" fill="#111" stroke="#111" stroke-width="0.15" >CD19CART</text>
<path d="M266.01,484.30L274.59,484.30L270.30,492.24Z" fill="none" stroke="#45aa48" stroke-width="1.2" stroke-linejoin="miter"/>
<text x="279.60" y="492.90" font-size="11.8" text-anchor="start" font-weight="normal" fill="#111" stroke="#111" stroke-width="0.15" >KW_L2H</text>
<path d="M341.11,484.30L349.69,484.30L345.40,492.24Z" fill="none" stroke="#4a2062" stroke-width="1.2" stroke-linejoin="miter"/>
<text x="355.20" y="492.90" font-size="11.8" text-anchor="start" font-weight="normal" fill="#111" stroke="#111" stroke-width="0.15" >h1567_L2H</text>
<text x="11.10" y="534.40" font-size="17.5" text-anchor="start" font-weight="bold" fill="#000"  stroke="#000" stroke-width="0.6">D</text>
<text x="133.80" y="534.70" font-size="14" text-anchor="start" font-weight="normal" fill="#111" stroke="#111" stroke-width="0.15" letter-spacing="0.2">IFN-<tspan font-family="Liberation Serif" font-size="14">γ</tspan></text>
<line x1="64.00" y1="568.80" x2="64.00" y2="689.00" stroke="#151515" stroke-width="1.5" />
<line x1="59.00" y1="689.00" x2="238.70" y2="689.00" stroke="#151515" stroke-width="1.5" />
<line x1="59.00" y1="688.80" x2="64.00" y2="688.80" stroke="#151515" stroke-width="1.3" />
<text x="54.00" y="692.90" font-size="11.6" text-anchor="end" font-weight="normal" fill="#111" stroke="#111" stroke-width="0.15" >0</text>
<line x1="59.00" y1="665.58" x2="64.00" y2="665.58" stroke="#151515" stroke-width="1.3" />
<text x="54.00" y="669.68" font-size="11.6" text-anchor="end" font-weight="normal" fill="#111" stroke="#111" stroke-width="0.15" textLength="13.9" lengthAdjust="spacingAndGlyphs">50</text>
<line x1="59.00" y1="642.37" x2="64.00" y2="642.37" stroke="#151515" stroke-width="1.3" />
<text x="54.00" y="646.47" font-size="11.6" text-anchor="end" font-weight="normal" fill="#111" stroke="#111" stroke-width="0.15" textLength="21.0" lengthAdjust="spacingAndGlyphs">100</text>
<line x1="59.00" y1="619.15" x2="64.00" y2="619.15" stroke="#151515" stroke-width="1.3" />
<text x="54.00" y="623.25" font-size="11.6" text-anchor="end" font-weight="normal" fill="#111" stroke="#111" stroke-width="0.15" textLength="21.0" lengthAdjust="spacingAndGlyphs">150</text>
<line x1="59.00" y1="595.94" x2="64.00" y2="595.94" stroke="#151515" stroke-width="1.3" />
<text x="54.00" y="600.04" font-size="11.6" text-anchor="end" font-weight="normal" fill="#111" stroke="#111" stroke-width="0.15" textLength="21.0" lengthAdjust="spacingAndGlyphs">200</text>
<line x1="59.00" y1="572.72" x2="64.00" y2="572.72" stroke="#151515" stroke-width="1.3" />
<text x="54.00" y="576.82" font-size="11.6" text-anchor="end" font-weight="normal" fill="#111" stroke="#111" stroke-width="0.15" textLength="21.0" lengthAdjust="spacingAndGlyphs">250</text>
<line x1="85.60" y1="689.00" x2="85.60" y2="693.50" stroke="#151515" stroke-width="1.3" />
<line x1="129.20" y1="689.00" x2="129.20" y2="693.50" stroke="#151515" stroke-width="1.3" />
<line x1="172.80" y1="689.00" x2="172.80" y2="693.50" stroke="#151515" stroke-width="1.3" />
<line x1="216.40" y1="689.00" x2="216.40" y2="693.50" stroke="#151515" stroke-width="1.3" />
<text x="23.20" y="631.20" font-size="13" text-anchor="middle" font-weight="normal" fill="#111"  transform="rotate(-90 23.2 631.2)" textLength="26.2" lengthAdjust="spacingAndGlyphs" stroke="#111" stroke-width="0.42">pg/ml</text>
<line x1="84.30" y1="566.40" x2="172.30" y2="566.40" stroke="#151515" stroke-width="1.3" />
<text x="127.60" y="565.90" font-size="10.5" text-anchor="middle" font-weight="normal" fill="#111" stroke="#111" stroke-width="0.15" >**</text>
<line x1="129.60" y1="579.40" x2="172.90" y2="579.40" stroke="#151515" stroke-width="1.3" />
<text x="151.50" y="576.60" font-size="11.5" text-anchor="middle" font-weight="normal" fill="#111" stroke="#111" stroke-width="0.15" >ns</text>
<line x1="174.60" y1="579.40" x2="217.00" y2="579.40" stroke="#151515" stroke-width="1.3" />
<text x="196.80" y="576.60" font-size="11.5" text-anchor="middle" font-weight="normal" fill="#111" stroke="#111" stroke-width="0.15" >ns</text>
<circle cx="71.70" cy="689.20" r="3.40" fill="none" stroke="#b5163c" stroke-width="1.4"/>
<circle cx="80.80" cy="689.20" r="3.40" fill="none" stroke="#b5163c" stroke-width="1.4"/>
<circle cx="89.80" cy="689.20" r="3.40" fill="none" stroke="#b5163c" stroke-width="1.4"/>
<circle cx="98.90" cy="689.20" r="3.40" fill="none" stroke="#b5163c" stroke-width="1.4"/>
<line x1="129.20" y1="629.60" x2="129.20" y2="658.20" stroke="#1d4a80" stroke-width="1.3" />
<line x1="120.45" y1="629.60" x2="137.95" y2="629.60" stroke="#1d4a80" stroke-width="1.3" />
<line x1="120.45" y1="658.20" x2="137.95" y2="658.20" stroke="#1d4a80" stroke-width="1.3" />
<line x1="111.10" y1="643.50" x2="147.30" y2="643.50" stroke="#151515" stroke-width="1.4" />
<path d="M126.02,594.70L129.20,591.52L132.38,594.70L129.20,597.88Z" fill="none" stroke="#1d4a80" stroke-width="1.3" stroke-linejoin="miter"/>
<path d="M126.02,634.00L129.20,630.82L132.38,634.00L129.20,637.18Z" fill="none" stroke="#1d4a80" stroke-width="1.3" stroke-linejoin="miter"/>
<path d="M120.62,656.90L123.80,653.72L126.98,656.90L123.80,660.08Z" fill="none" stroke="#1d4a80" stroke-width="1.3" stroke-linejoin="miter"/>
<path d="M131.72,656.90L134.90,653.72L138.08,656.90L134.90,660.08Z" fill="none" stroke="#1d4a80" stroke-width="1.3" stroke-linejoin="miter"/>
<path d="M126.02,675.40L129.20,672.22L132.38,675.40L129.20,678.58Z" fill="none" stroke="#1d4a80" stroke-width="1.3" stroke-linejoin="miter"/>
<line x1="172.80" y1="657.90" x2="172.80" y2="667.70" stroke="#5fb65f" stroke-width="1.2" />
<line x1="163.95" y1="657.90" x2="181.65" y2="657.90" stroke="#5fb65f" stroke-width="1.2" />
<line x1="163.95" y1="667.70" x2="181.65" y2="667.70" stroke="#5fb65f" stroke-width="1.2" />
<line x1="154.80" y1="662.90" x2="190.90" y2="662.90" stroke="#151515" stroke-width="1.4" />
<path d="M164.55,648.95L170.65,648.95L167.60,655.05Z" fill="none" stroke="#45aa48" stroke-width="1.3" stroke-linejoin="miter"/>
<path d="M175.35,647.65L181.45,647.65L178.40,653.75Z" fill="none" stroke="#45aa48" stroke-width="1.3" stroke-linejoin="miter"/>
<path d="M170.95,659.15L177.05,659.15L174.00,665.25Z" fill="none" stroke="#45aa48" stroke-width="1.3" stroke-linejoin="miter"/>
<path d="M175.55,665.85L181.65,665.85L178.60,671.95Z" fill="none" stroke="#45aa48" stroke-width="1.3" stroke-linejoin="miter"/>
<path d="M164.95,673.25L171.05,673.25L168.00,679.35Z" fill="none" stroke="#45aa48" stroke-width="1.3" stroke-linejoin="miter"/>
<path d="M200.75,684.65L206.25,684.65L203.50,690.15Z" fill="none" stroke="#4a2062" stroke-width="1.3" stroke-linejoin="miter"/>
<path d="M207.25,686.45L212.75,686.45L210.00,691.95Z" fill="none" stroke="#4a2062" stroke-width="1.3" stroke-linejoin="miter"/>
<path d="M213.75,686.45L219.25,686.45L216.50,691.95Z" fill="none" stroke="#4a2062" stroke-width="1.3" stroke-linejoin="miter"/>
<path d="M220.25,686.45L225.75,686.45L223.00,691.95Z" fill="none" stroke="#4a2062" stroke-width="1.3" stroke-linejoin="miter"/>
<path d="M227.45,684.65L232.95,684.65L230.20,690.15Z" fill="none" stroke="#4a2062" stroke-width="1.3" stroke-linejoin="miter"/>
<text x="367.40" y="534.70" font-size="14" text-anchor="start" font-weight="normal" fill="#111" stroke="#111" stroke-width="0.15" letter-spacing="0.2">TNF-<tspan font-family="Liberation Serif" font-size="15">α</tspan></text>
<line x1="300.70" y1="568.60" x2="300.70" y2="689.00" stroke="#151515" stroke-width="1.5" />
<line x1="296.20" y1="689.00" x2="475.40" y2="689.00" stroke="#151515" stroke-width="1.5" />
<line x1="296.20" y1="689.10" x2="300.70" y2="689.10" stroke="#151515" stroke-width="1.3" />
<text x="290.60" y="693.20" font-size="11.6" text-anchor="end" font-weight="normal" fill="#111" stroke="#111" stroke-width="0.15" >0</text>
<line x1="296.20" y1="660.04" x2="300.70" y2="660.04" stroke="#151515" stroke-width="1.3" />
<text x="290.60" y="664.14" font-size="11.6" text-anchor="end" font-weight="normal" fill="#111" stroke="#111" stroke-width="0.15" >2</text>
<line x1="296.20" y1="630.98" x2="300.70" y2="630.98" stroke="#151515" stroke-width="1.3" />
<text x="290.60" y="635.08" font-size="11.6" text-anchor="end" font-weight="normal" fill="#111" stroke="#111" stroke-width="0.15" >4</text>
<line x1="296.20" y1="601.92" x2="300.70" y2="601.92" stroke="#151515" stroke-width="1.3" />
<text x="290.60" y="606.02" font-size="11.6" text-anchor="end" font-weight="normal" fill="#111" stroke="#111" stroke-width="0.15" >6</text>
<line x1="296.20" y1="572.86" x2="300.70" y2="572.86" stroke="#151515" stroke-width="1.3" />
<text x="290.60" y="576.96" font-size="11.6" text-anchor="end" font-weight="normal" fill="#111" stroke="#111" stroke-width="0.15" >8</text>
<line x1="322.70" y1="689.00" x2="322.70" y2="693.50" stroke="#151515" stroke-width="1.3" />
<line x1="366.30" y1="689.00" x2="366.30" y2="693.50" stroke="#151515" stroke-width="1.3" />
<line x1="409.90" y1="689.00" x2="409.90" y2="693.50" stroke="#151515" stroke-width="1.3" />
<line x1="453.60" y1="689.00" x2="453.60" y2="693.50" stroke="#151515" stroke-width="1.3" />
<text x="274.80" y="630.80" font-size="13" text-anchor="middle" font-weight="normal" fill="#111"  transform="rotate(-90 274.8 630.8)" textLength="26.0" lengthAdjust="spacingAndGlyphs" stroke="#111" stroke-width="0.42">pg/ml</text>
<line x1="321.70" y1="556.00" x2="409.00" y2="556.00" stroke="#151515" stroke-width="1.3" />
<text x="361.70" y="551.40" font-size="11.5" text-anchor="middle" font-weight="normal" fill="#111" stroke="#111" stroke-width="0.15" >ns</text>
<line x1="365.40" y1="569.20" x2="408.50" y2="569.20" stroke="#151515" stroke-width="1.3" />
<text x="387.50" y="564.60" font-size="11.5" text-anchor="middle" font-weight="normal" fill="#111" stroke="#111" stroke-width="0.15" >ns</text>
<line x1="414.00" y1="569.20" x2="456.20" y2="569.20" stroke="#151515" stroke-width="1.3" />
<text x="434.60" y="567.80" font-size="9.5" text-anchor="middle" font-weight="normal" fill="#111" stroke="#111" stroke-width="0.15" >*</text>
<line x1="322.70" y1="672.70" x2="322.70" y2="681.40" stroke="#b5163c" stroke-width="1.3" />
<line x1="314.20" y1="672.70" x2="331.20" y2="672.70" stroke="#b5163c" stroke-width="1.3" />
<line x1="314.20" y1="681.40" x2="331.20" y2="681.40" stroke="#b5163c" stroke-width="1.3" />
<line x1="304.30" y1="677.50" x2="340.70" y2="677.50" stroke="#151515" stroke-width="1.4" />
<circle cx="317.10" cy="668.80" r="3.35" fill="none" stroke="#b5163c" stroke-width="1.3"/>
<circle cx="332.90" cy="671.40" r="3.35" fill="none" stroke="#b5163c" stroke-width="1.3"/>
<circle cx="327.50" cy="678.80" r="3.35" fill="none" stroke="#b5163c" stroke-width="1.3"/>
<circle cx="317.10" cy="688.70" r="3.35" fill="none" stroke="#b5163c" stroke-width="1.3"/>
<line x1="366.30" y1="622.30" x2="366.30" y2="651.40" stroke="#1d4a80" stroke-width="1.3" />
<line x1="357.45" y1="622.30" x2="375.15" y2="622.30" stroke="#1d4a80" stroke-width="1.3" />
<line x1="357.45" y1="651.40" x2="375.15" y2="651.40" stroke="#1d4a80" stroke-width="1.3" />
<line x1="348.20" y1="636.80" x2="384.30" y2="636.80" stroke="#151515" stroke-width="1.4" />
<path d="M363.24,583.60L366.30,580.70L369.36,583.60L366.30,586.50Z" fill="none" stroke="#1d4a80" stroke-width="1.3" stroke-linejoin="miter"/>
<path d="M363.24,631.70L366.30,628.80L369.36,631.70L366.30,634.60Z" fill="none" stroke="#1d4a80" stroke-width="1.3" stroke-linejoin="miter"/>
<path d="M363.24,648.40L366.30,645.50L369.36,648.40L366.30,651.30Z" fill="none" stroke="#1d4a80" stroke-width="1.3" stroke-linejoin="miter"/>
<path d="M368.64,657.30L371.70,654.40L374.76,657.30L371.70,660.20Z" fill="none" stroke="#1d4a80" stroke-width="1.3" stroke-linejoin="miter"/>
<path d="M358.04,663.50L361.10,660.60L364.16,663.50L361.10,666.40Z" fill="none" stroke="#1d4a80" stroke-width="1.3" stroke-linejoin="miter"/>
<line x1="410.00" y1="639.40" x2="410.00" y2="650.90" stroke="#5fb65f" stroke-width="1.2" />
<line x1="401.00" y1="639.40" x2="419.00" y2="639.40" stroke="#5fb65f" stroke-width="1.2" />
<line x1="401.00" y1="650.90" x2="419.00" y2="650.90" stroke="#5fb65f" stroke-width="1.2" />
<line x1="392.10" y1="645.40" x2="427.50" y2="645.40" stroke="#151515" stroke-width="1.4" />
<path d="M406.95,624.55L413.05,624.55L410.00,630.65Z" fill="none" stroke="#45aa48" stroke-width="1.3" stroke-linejoin="miter"/>
<path d="M401.55,639.75L407.65,639.75L404.60,645.85Z" fill="none" stroke="#45aa48" stroke-width="1.3" stroke-linejoin="miter"/>
<path d="M412.15,640.75L418.25,640.75L415.20,646.85Z" fill="none" stroke="#45aa48" stroke-width="1.3" stroke-linejoin="miter"/>
<path d="M412.15,651.75L418.25,651.75L415.20,657.85Z" fill="none" stroke="#45aa48" stroke-width="1.3" stroke-linejoin="miter"/>
<path d="M401.55,653.75L407.65,653.75L404.60,659.85Z" fill="none" stroke="#45aa48" stroke-width="1.3" stroke-linejoin="miter"/>
<line x1="453.60" y1="680.60" x2="453.60" y2="685.50" stroke="#4a2062" stroke-width="1.3" />
<line x1="444.85" y1="680.60" x2="462.35" y2="680.60" stroke="#4a2062" stroke-width="1.3" />
<line x1="444.85" y1="685.50" x2="462.35" y2="685.50" stroke="#4a2062" stroke-width="1.3" />
<line x1="435.60" y1="683.40" x2="471.60" y2="683.40" stroke="#4a2062" stroke-width="1.4" />
<path d="M450.65,672.85L456.55,672.85L453.60,678.75Z" fill="none" stroke="#4a2062" stroke-width="1.3" stroke-linejoin="miter"/>
<path d="M464.35,675.95L470.25,675.95L467.30,681.85Z" fill="none" stroke="#4a2062" stroke-width="1.3" stroke-linejoin="miter"/>
<path d="M436.85,680.45L442.75,680.45L439.80,686.35Z" fill="none" stroke="#4a2062" stroke-width="1.3" stroke-linejoin="miter"/>
<path d="M445.85,685.65L451.75,685.65L448.80,691.55Z" fill="none" stroke="#4a2062" stroke-width="1.3" stroke-linejoin="miter"/>
<path d="M455.35,685.65L461.25,685.65L458.30,691.55Z" fill="none" stroke="#4a2062" stroke-width="1.3" stroke-linejoin="miter"/>
<circle cx="127.90" cy="716.40" r="4.35" fill="none" stroke="#b5163c" stroke-width="1.3"/>
<text x="137.40" y="720.70" font-size="11.8" text-anchor="start" font-weight="normal" fill="#111" stroke="#111" stroke-width="0.15" >UTD</text>
<path d="M174.72,716.40L179.30,711.82L183.88,716.40L179.30,720.98Z" fill="none" stroke="#1d4a80" stroke-width="1.3" stroke-linejoin="miter"/>
<text x="189.40" y="720.70" font-size="11.8" text-anchor="start" font-weight="normal" fill="#111" stroke="#111" stroke-width="0.15" >CD19CART</text>
<path d="M266.01,712.10L274.59,712.10L270.30,720.04Z" fill="none" stroke="#45aa48" stroke-width="1.2" stroke-linejoin="miter"/>
<text x="279.60" y="720.70" font-size="11.8" text-anchor="start" font-weight="normal" fill="#111" stroke="#111" stroke-width="0.15" >KW_L2H</text>
<path d="M341.11,712.10L349.69,712.10L345.40,720.04Z" fill="none" stroke="#4a2062" stroke-width="1.2" stroke-linejoin="miter"/>
<text x="355.20" y="720.70" font-size="11.8" text-anchor="start" font-weight="normal" fill="#111" stroke="#111" stroke-width="0.15" >h1567_L2H</text>
</svg>
</body></html>
